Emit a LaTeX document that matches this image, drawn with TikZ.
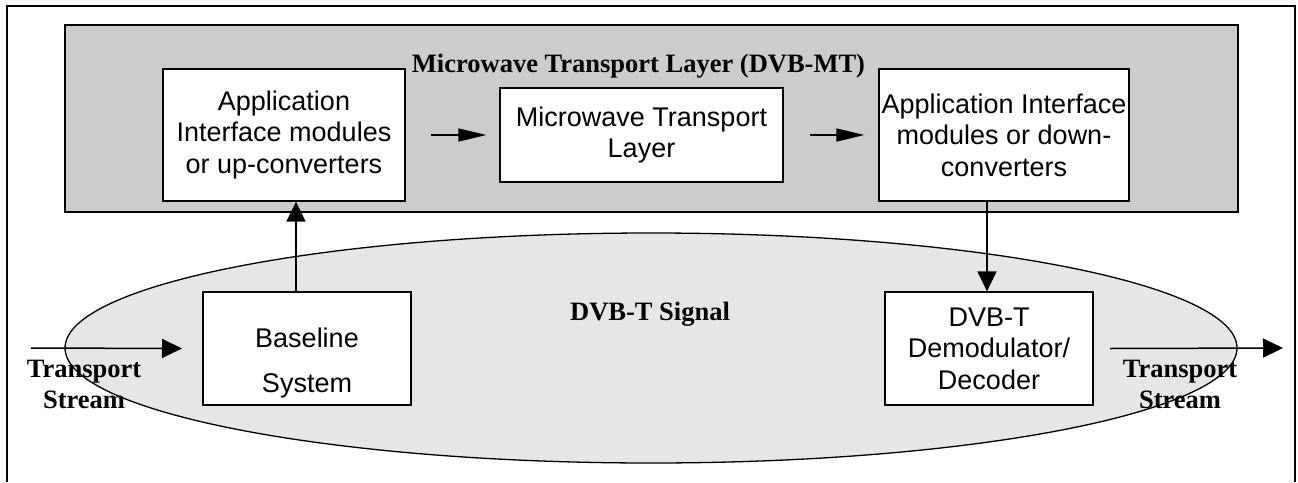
\documentclass[tikz,border=0pt]{standalone}
\usepackage{fontspec}
\setmainfont{Liberation Serif}
\newfontfamily\arialfont{Liberation Sans}
\usetikzlibrary{arrows.meta,shapes.geometric}
\definecolor{layergray}{HTML}{CCCCCC}
\definecolor{signalgray}{HTML}{E6E6E6}
\tikzset{
  box/.style={draw=black, line width=1.3pt, fill=white, rectangle, inner sep=0pt,
    align=center, font=\arialfont\fontsize{27}{31.5}\selectfont},
  bigarr/.style={line width=1.5pt, -{Triangle[length=20pt,width=19pt]}},
  smallarr/.style={line width=1.5pt, -{Triangle[length=28pt,width=13pt]}},
  boldlbl/.style={font=\bfseries\fontsize{26.5}{31}\selectfont, inner sep=0pt, align=center},
}
\begin{document}
\begin{tikzpicture}[x=1pt,y=-1pt]
\useasboundingbox (0,0) rectangle (1298,482);
% outer frame
\draw[line width=1.3pt] (7,482) -- (7,6) -- (1295,6) -- (1295,482);
% layer box
\node[draw=black, line width=1.3pt, fill=layergray, minimum width=1173pt, minimum height=187pt, inner sep=0pt] (layer) at (651.5,118.5) {};
% signal ellipse
\node[ellipse, draw=black, line width=1.3pt, fill=signalgray, minimum width=1172pt, minimum height=230pt, inner sep=0pt] (sig) at (651,348) {};
% title labels
\node[boldlbl, anchor=base] (title) at (638.5,72) {Microwave Transport Layer (DVB-MT)};
\node[boldlbl, anchor=base] (sigt) at (650,320) {DVB-T Signal};
% boxes
\node[box, minimum width=242pt, minimum height=132pt] (up) at (284,135) {Application\\Interface modules\\or up-converters};
\node[box, minimum width=283pt, minimum height=94pt] (mtl) at (641.5,135) {Microwave Transport\\Layer};
\node[box, minimum width=250pt, minimum height=132pt] (dn) at (1004,135) {Application Interface\\modules or down-\\converters};
\node[box, minimum width=208pt, minimum height=113pt] (base) at (307,348.5) {};
\node[font=\arialfont\fontsize{27}{45}\selectfont, align=center, inner sep=0pt, anchor=base] (baset) at (307,392) {Baseline\\System};
\node[box, minimum width=208pt, minimum height=113pt] (dvb) at (989,348.5) {DVB-T\\Demodulator/\\Decoder};
% transport stream labels
\node[boldlbl, anchor=base] (tsl) at (84,408) {Transport\\Stream};
\node[boldlbl, anchor=base] (tsr) at (1180,408) {Transport\\Stream};
% connectors
\coordinate (inS) at (31,348);
\coordinate (outE) at (1283,348);
\draw[bigarr] (inS) -- (base.west -| 182,0);
\draw[bigarr] (dvb.east -| 1110,0) -- (outE);
\draw[smallarr] ([xshift=25pt]up.east) -- ([xshift=-13pt]mtl.west);
\draw[smallarr] ([xshift=26pt]mtl.east) -- ([xshift=-14pt]dn.west);
\draw[bigarr] ([xshift=-11pt]base.north) -- ([xshift=-11pt]base.north |- up.south);
\draw[bigarr] ([xshift=-2pt]dvb.north |- dn.south) -- ([xshift=-2pt]dvb.north);
\end{tikzpicture}
\end{document}
